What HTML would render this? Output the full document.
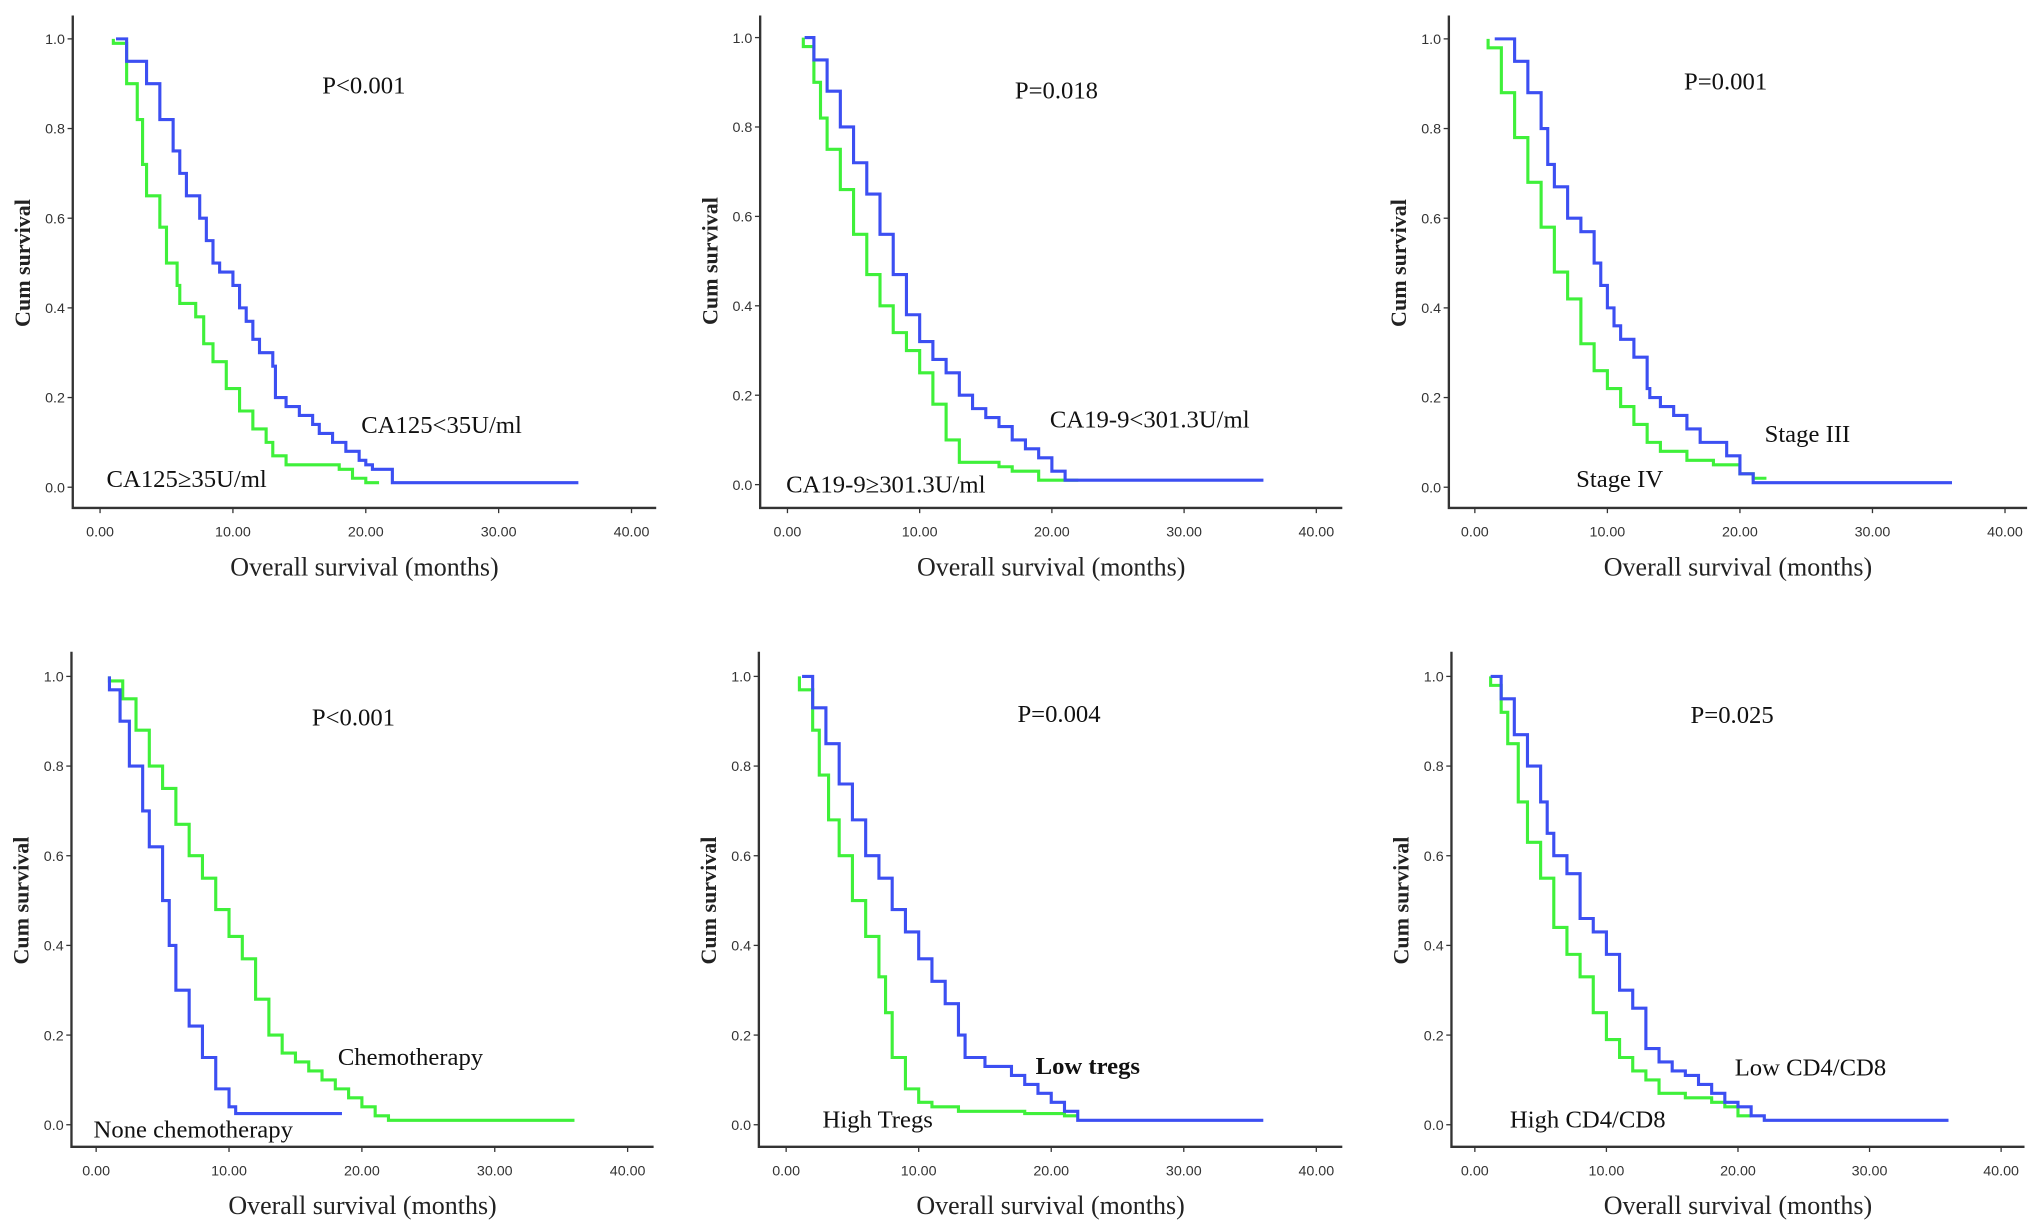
<!DOCTYPE html>
<html><head><meta charset="utf-8"><style>
html,body{margin:0;padding:0;background:#fff;}
svg{display:block;}
text{font-family:"Liberation Serif",serif;}
.tick{font-family:"Liberation Sans",sans-serif;font-size:11px;fill:#333;}
</style></head><body>
<svg id="fig" width="2031" height="1231" viewBox="0 0 1563 950" preserveAspectRatio="none" xmlns="http://www.w3.org/2000/svg"></svg>
<script>
const xTicks=[0,10,20,30,40];
const xTickLabels=["0.00","10.00","20.00","30.00","40.00"];
const yTicks=[0,0.2,0.4,0.6,0.8,1.0];
const yTickLabels=["0.0","0.2","0.4","0.6","0.8","1.0"];

const p1BlueT=[1.2,2,3.5,4.5,5.5,6,6.5,7.5,8,8.5,9,10,10.5,11,11.5,12,13,13.2,14,15,16,16.5,17.5,18.5,19.5,20,20.5,22,36];
const p1BlueS=[1.0,0.95,0.9,0.82,0.75,0.7,0.65,0.6,0.55,0.5,0.48,0.45,0.4,0.37,0.33,0.3,0.27,0.2,0.18,0.16,0.14,0.12,0.1,0.08,0.06,0.05,0.04,0.01,0.01];
const p1GreenT=[1,2,2.8,3.2,3.5,4.5,5,5.8,6,7.2,7.8,8.5,9.5,10.5,11.5,12.5,13,14,16,18,19,20,21];
const p1GreenS=[0.99,0.9,0.82,0.72,0.65,0.58,0.5,0.45,0.41,0.38,0.32,0.28,0.22,0.17,0.13,0.1,0.07,0.05,0.05,0.04,0.02,0.01,0.01];

const p2BlueT=[1.3,2,3,4,5,6,7,8,9,10,11,12,13,14,15,16,17,18,19,20,21,36];
const p2BlueS=[1.0,0.95,0.88,0.8,0.72,0.65,0.56,0.47,0.38,0.32,0.28,0.25,0.2,0.17,0.15,0.13,0.1,0.08,0.06,0.03,0.01,0.01];
const p2GreenT=[1.2,2,2.5,3,4,5,6,7,8,9,10,11,12,13,16,17,19,22];
const p2GreenS=[0.98,0.9,0.82,0.75,0.66,0.56,0.47,0.4,0.34,0.3,0.25,0.18,0.1,0.05,0.04,0.03,0.01,0.01];

const p3BlueT=[1.5,3,4,5,5.5,6,7,8,9,9.5,10,10.5,11,12,13,13.2,14,15,16,17,19,20,21,36];
const p3BlueS=[1.0,0.95,0.88,0.8,0.72,0.67,0.6,0.57,0.5,0.45,0.4,0.36,0.33,0.29,0.22,0.2,0.18,0.16,0.13,0.1,0.07,0.03,0.01,0.01];
const p3GreenT=[1,2,3,4,5,6,7,8,9,10,11,12,13,14,16,18,20,21,22];
const p3GreenS=[0.98,0.88,0.78,0.68,0.58,0.48,0.42,0.32,0.26,0.22,0.18,0.14,0.1,0.08,0.06,0.05,0.03,0.02,0.02];

const p4BlueT=[1,1.8,2.5,3.5,4,5,5.5,6,7,8,9,10,10.5,18.5];
const p4BlueS=[0.97,0.9,0.8,0.7,0.62,0.5,0.4,0.3,0.22,0.15,0.08,0.04,0.025,0.025];
const p4GreenT=[1,2,3,4,5,6,7,8,9,10,11,12,13,14,15,16,17,18,19,20,21,22,36];
const p4GreenS=[0.99,0.95,0.88,0.8,0.75,0.67,0.6,0.55,0.48,0.42,0.37,0.28,0.2,0.16,0.14,0.12,0.1,0.08,0.06,0.04,0.02,0.01,0.01];

const p5BlueT=[1.2,2,3,4,5,6,7,8,9,10,11,12,13,13.5,15,17,18,19,20,21,22,36];
const p5BlueS=[1.0,0.93,0.85,0.76,0.68,0.6,0.55,0.48,0.43,0.37,0.32,0.27,0.2,0.15,0.13,0.11,0.09,0.07,0.05,0.03,0.01,0.01];
const p5GreenT=[1,2,2.5,3.2,4,5,6,7,7.5,8,9,10,11,13,18,21,22];
const p5GreenS=[0.97,0.88,0.78,0.68,0.6,0.5,0.42,0.33,0.25,0.15,0.08,0.05,0.04,0.03,0.025,0.02,0.02];

const p6BlueT=[1.2,2,3,4,5,5.5,6,7,8,9,10,11,12,13,14,15,16,17,18,19,20,21,22,36];
const p6BlueS=[1.0,0.95,0.87,0.8,0.72,0.65,0.6,0.56,0.46,0.43,0.38,0.3,0.26,0.17,0.14,0.12,0.11,0.09,0.07,0.05,0.04,0.02,0.01,0.01];
const p6GreenT=[1.2,2,2.5,3.3,4,5,6,7,8,9,10,11,12,13,14,16,18,19,20,21];
const p6GreenS=[0.98,0.92,0.85,0.72,0.63,0.55,0.44,0.38,0.33,0.25,0.19,0.15,0.12,0.1,0.07,0.06,0.05,0.04,0.02,0.02];

const NS="http://www.w3.org/2000/svg";
const svg=document.getElementById('fig');
function mk(tag,attrs,parent){const e=document.createElementNS(NS,tag);for(const k in attrs)e.setAttribute(k,attrs[k]);(parent||svg).appendChild(e);return e;}

const panels=[
 {ax:56,axR:505,axB:392,top:12,x0:77,x40:486,y1:30,y0:376,bT:p1BlueT,bS:p1BlueS,gT:p1GreenT,gS:p1GreenS,p:"P<0.001",px:280,py:72,lb:["CA125<35U/ml",278,334,false],lg:["CA125≥35U/ml",82,376,false]},
 {ax:585,axR:1033,axB:392,top:12,x0:606,x40:1013,y1:29,y0:374,bT:p2BlueT,bS:p2BlueS,gT:p2GreenT,gS:p2GreenS,p:"P=0.018",px:813,py:76,lb:["CA19-9<301.3U/ml",808,330,false],lg:["CA19-9≥301.3U/ml",605,380,false]},
 {ax:1115,axR:1560,axB:392,top:12,x0:1135,x40:1543,y1:30,y0:376,bT:p3BlueT,bS:p3BlueS,gT:p3GreenT,gS:p3GreenS,p:"P=0.001",px:1328,py:69,lb:["Stage III",1358,341,false],lg:["Stage IV",1213,376,false]},
 {ax:55,axR:503,axB:885,top:503,x0:74,x40:483,y1:522,y0:868,bT:p4BlueT,bS:p4BlueS,gT:p4GreenT,gS:p4GreenS,p:"P<0.001",px:272,py:560,lb:["None chemotherapy",72,878,false],lg:["Chemotherapy",260,822,false]},
 {ax:584,axR:1033,axB:885,top:503,x0:605,x40:1013,y1:522,y0:868,bT:p5BlueT,bS:p5BlueS,gT:p5GreenT,gS:p5GreenS,p:"P=0.004",px:815,py:557,lb:["Low tregs",797,829,true],lg:["High Tregs",633,870,false]},
 {ax:1117,axR:1558,axB:885,top:503,x0:1135,x40:1540,y1:522,y0:868,bT:p6BlueT,bS:p6BlueS,gT:p6GreenT,gS:p6GreenS,p:"P=0.025",px:1333,py:558,lb:["Low CD4/CD8",1335,830,false],lg:["High CD4/CD8",1162,870,false]}
];

function stepPath(T,S,xs,ys){
  let d="M"+xs(T[0])+","+ys(1.0);
  d+=" L"+xs(T[0])+","+ys(S[0]);
  for(let i=1;i<T.length;i++){d+=" L"+xs(T[i])+","+ys(S[i-1])+" L"+xs(T[i])+","+ys(S[i]);}
  return d;
}

panels.forEach((P,i)=>{
  const g=mk('g',{});
  
  
  const xs=v=>P.x0+(P.x40-P.x0)*v/40;
  const ys=v=>P.y0+(P.y1-P.y0)*v;
  const axes=mk('path',{d:`M${P.ax},${P.top} L${P.ax},${P.axB} L${P.axR},${P.axB}`,stroke:'#333',fill:'none','stroke-width':1.8},g);
  
  
  xTicks.forEach((t,k)=>{
    mk('line',{x1:xs(t),x2:xs(t),y1:P.axB,y2:P.axB+4,stroke:'#333','stroke-width':1},g);
    const tx=mk('text',{x:xs(t),y:P.axB+22,'text-anchor':'middle',class:'tick'},g);
    tx.textContent=xTickLabels[k];
    
    
  });
  yTicks.forEach((t,k)=>{
    mk('line',{x1:P.ax-4,x2:P.ax,y1:ys(t),y2:ys(t),stroke:'#333','stroke-width':1},g);
    const tx=mk('text',{x:P.ax-6,y:ys(t)+4,'text-anchor':'end',class:'tick'},g);
    tx.textContent=yTickLabels[k];
    
    
  });
  const yl=mk('text',{x:0,y:0,transform:`translate(${P.ax-33},${(P.y0+P.y1)/2}) rotate(-90)`,'text-anchor':'middle','font-size':17,'font-weight':'bold',fill:'#222'},g);
  yl.textContent="Cum survival";
  
  
  const xl=mk('text',{x:(P.ax+P.axR)/2,y:P.axB+52,'text-anchor':'middle','font-size':20,fill:'#222'},g);
  xl.textContent="Overall survival (months)";
  
  
  const gr=mk('path',{d:stepPath(P.gT,P.gS,xs,ys),stroke:'#3ff03a',fill:'none','stroke-width':2.4},g);
  
  
  const bl=mk('path',{d:stepPath(P.bT,P.bS,xs,ys),stroke:'#3c4ff2',fill:'none','stroke-width':2.4},g);
  
  
  const pt=mk('text',{x:P.px,y:P.py,'text-anchor':'middle','font-size':19,fill:'#111'},g);
  pt.textContent=P.p;
  
  
  [P.lb,P.lg].forEach(L=>{
    const t=mk('text',{x:L[1],y:L[2],'font-size':19,fill:'#111','font-weight':L[3]?'bold':'normal'},g);
    t.textContent=L[0];
    
    
  });
});
</script>
</body></html>
